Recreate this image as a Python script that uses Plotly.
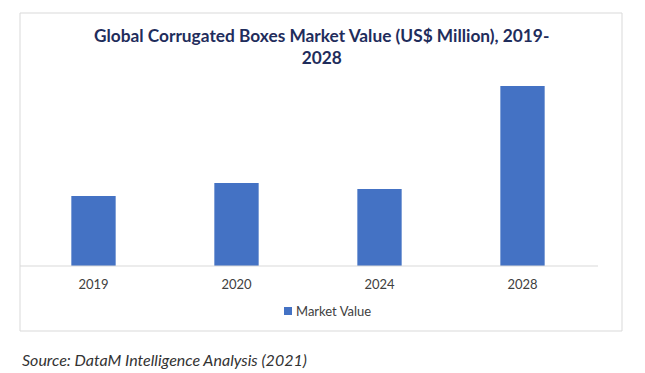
import plotly.graph_objects as go

years = ["2019", "2020", "2024", "2028"]
market_value = [70, 83, 77, 180]
series_name = "Market Value"
title_text = "Global Corrugated Boxes Market Value (US$ Million), 2019-<br>2028"
source_text = "Source: DataM Intelligence Analysis (2021)"

W, H = 645, 373
L, R, T, B = 22, 594, 80, 266  # plot area pixels

def px(x):
    return (x - L) / (R - L)

def py(y):
    return (B - y) / (B - T)

fig = go.Figure()
fig.add_trace(go.Bar(
    x=years, y=market_value, name=series_name,
    marker=dict(color="#4472C4", line=dict(width=0)),
    showlegend=False,
))

fig.update_layout(
    width=W, height=H,
    margin=dict(l=L, r=W - R, t=T, b=H - B, pad=0),
    paper_bgcolor="white", plot_bgcolor="white",
    bargap=0.69,
    xaxis=dict(showgrid=False, showline=False, ticks="", zeroline=False,
               ticklabelstandoff=9,
               tickfont=dict(family="Lato", size=13, color="#404040")),
    yaxis=dict(visible=False, range=[0, 186]),
    showlegend=False,
    font=dict(family="Lato"),
)

# outer box
fig.add_shape(type="rect", xref="paper", yref="paper",
              x0=px(20), x1=px(622), y0=py(331), y1=py(13),
              line=dict(color="#D9D9D9", width=1), fillcolor="rgba(0,0,0,0)", layer="below")
# baseline
fig.add_shape(type="line", xref="paper", yref="paper",
              x0=px(20), x1=px(598), y0=0, y1=0,
              line=dict(color="#D9D9D9", width=1))

# legend (manual)
fig.add_shape(type="rect", xref="paper", yref="paper",
              x0=px(284), x1=px(292), y0=py(315), y1=py(307),
              line=dict(width=0), fillcolor="#4472C4")
fig.add_annotation(text=series_name, xref="paper", yref="paper",
                   x=px(294), y=py(311), xanchor="left", yanchor="middle",
                   showarrow=False,
                   font=dict(family="Lato", size=13, color="#404040"))

fig.add_annotation(text="<b>" + title_text + "</b>", xref="paper", yref="paper",
                   x=px(321.5), y=py(47), xanchor="center", yanchor="middle",
                   showarrow=False, align="center",
                   font=dict(family="Lato", size=17.3, color="#1F2D5C"))
fig.add_annotation(text="<i>" + source_text + "</i>", xref="paper", yref="paper",
                   x=px(20), y=py(359), xanchor="left", yanchor="middle",
                   showarrow=False,
                   font=dict(family="Lato", size=16, color="#333333"))

fig.write_html("out.html", config={"displayModeBar": False},
               post_script="document.body.style.margin='0';")
